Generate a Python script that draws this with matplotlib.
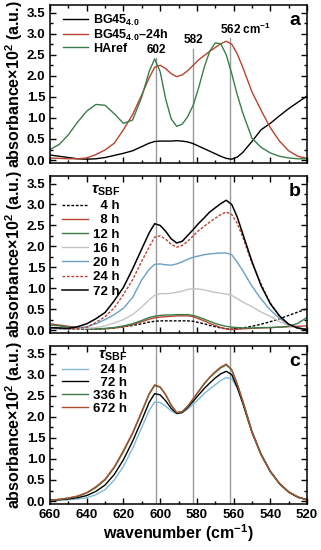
import matplotlib
matplotlib.use("Agg")
import matplotlib.pyplot as plt
from matplotlib.ticker import MultipleLocator, FormatStrFormatter

plt.rcParams["font.family"] = ["Liberation Sans", "DejaVu Sans"]
plt.rcParams["font.weight"] = "bold"
plt.rcParams["mathtext.fontset"] = "custom"
plt.rcParams["mathtext.rm"] = "Liberation Sans:bold"
plt.rcParams["mathtext.bf"] = "Liberation Sans:bold"
plt.rcParams["mathtext.it"] = "Liberation Sans:italic"

# shared wavenumber grid (cm^-1)
wn = [660, 655, 650, 645, 640, 635, 630, 625, 620, 615, 610, 606, 603, 600,
      597, 594, 591, 588, 585, 582, 579, 576, 573, 570, 567, 564, 561, 558,
      555, 550, 545, 540, 535, 530, 525, 520]

# panel a
bg45 = [0.12, 0.09, 0.06, 0.03, 0.02, 0.03, 0.06, 0.11, 0.16, 0.22, 0.32, 0.40,
        0.44, 0.45, 0.45, 0.45, 0.46, 0.45, 0.43, 0.39, 0.33, 0.27, 0.21, 0.15,
        0.09, 0.04, 0.02, 0.07, 0.18, 0.44, 0.72, 0.87, 1.05, 1.22, 1.37, 1.52]
bg45_24h = [0.05, 0.04, 0.03, 0.03, 0.05, 0.13, 0.24, 0.40, 0.72, 1.08, 1.55, 1.95,
            2.20, 2.25, 2.17, 2.05, 1.98, 2.02, 2.12, 2.25, 2.38, 2.48, 2.58, 2.67,
            2.76, 2.82, 2.75, 2.52, 2.20, 1.62, 1.18, 0.77, 0.45, 0.22, 0.09, 0.04]
haref = [0.25, 0.37, 0.60, 0.90, 1.16, 1.32, 1.30, 1.10, 0.87, 0.95, 1.50, 2.10,
         2.40, 2.10, 1.45, 0.98, 0.80, 0.85, 1.03, 1.30, 1.72, 2.20, 2.58, 2.78,
         2.76, 2.50, 2.05, 1.55, 1.12, 0.52, 0.30, 0.17, 0.09, 0.05, 0.03, 0.03]

# panel b
b_4h = [0.05, 0.04, 0.03, 0.02, 0.02, 0.02, 0.03, 0.05, 0.08, 0.11, 0.15, 0.19,
        0.21, 0.22, 0.22, 0.22, 0.22, 0.22, 0.22, 0.21, 0.18, 0.15, 0.11, 0.08,
        0.05, 0.03, 0.02, 0.03, 0.05, 0.09, 0.14, 0.20, 0.27, 0.35, 0.43, 0.51]
b_8h = [0.15, 0.12, 0.09, 0.06, 0.04, 0.03, 0.03, 0.05, 0.08, 0.13, 0.20, 0.26,
        0.29, 0.31, 0.32, 0.33, 0.34, 0.34, 0.34, 0.32, 0.27, 0.22, 0.16, 0.11,
        0.06, 0.03, 0.01, 0.02, 0.03, 0.04, 0.05, 0.06, 0.07, 0.08, 0.09, 0.10]
b_12h = [0.12, 0.10, 0.07, 0.05, 0.03, 0.03, 0.04, 0.06, 0.10, 0.15, 0.23, 0.30,
         0.33, 0.35, 0.36, 0.36, 0.37, 0.37, 0.37, 0.35, 0.31, 0.26, 0.21, 0.16,
         0.12, 0.09, 0.07, 0.06, 0.05, 0.05, 0.06, 0.06, 0.07, 0.09, 0.16, 0.30]
b_16h = [0.05, 0.04, 0.03, 0.03, 0.04, 0.06, 0.10, 0.17, 0.25, 0.37, 0.55, 0.72,
         0.83, 0.87, 0.87, 0.88, 0.90, 0.93, 0.97, 0.99, 0.98, 0.96, 0.93, 0.90,
         0.88, 0.86, 0.83, 0.75, 0.67, 0.56, 0.43, 0.33, 0.20, 0.11, 0.05, 0.02]
b_20h = [0.04, 0.03, 0.03, 0.05, 0.08, 0.15, 0.25, 0.37, 0.52, 0.78, 1.20, 1.45,
         1.57, 1.58, 1.56, 1.55, 1.58, 1.63, 1.69, 1.74, 1.77, 1.80, 1.82, 1.83,
         1.84, 1.84, 1.80, 1.62, 1.42, 1.05, 0.74, 0.48, 0.28, 0.13, 0.05, 0.02]
b_24h = [0.05, 0.04, 0.03, 0.04, 0.07, 0.18, 0.32, 0.53, 0.85, 1.20, 1.65, 1.98,
         2.22, 2.25, 2.17, 2.05, 1.98, 2.02, 2.12, 2.25, 2.38, 2.48, 2.58, 2.67,
         2.76, 2.82, 2.76, 2.55, 2.22, 1.60, 1.10, 0.65, 0.33, 0.13, 0.04, 0.02]
b_72h = [0.06, 0.05, 0.04, 0.08, 0.15, 0.27, 0.42, 0.70, 1.02, 1.46, 1.94, 2.32,
         2.54, 2.50, 2.36, 2.18, 2.08, 2.12, 2.26, 2.40, 2.55, 2.68, 2.82, 2.92,
         3.02, 3.10, 3.00, 2.70, 2.30, 1.64, 1.06, 0.63, 0.34, 0.14, 0.05, 0.01]

# panel c
c_24h = [0.02, 0.02, 0.03, 0.05, 0.08, 0.15, 0.27, 0.50, 0.82, 1.25, 1.75, 2.15,
         2.35, 2.34, 2.25, 2.14, 2.07, 2.10, 2.18, 2.30, 2.42, 2.55, 2.66, 2.76,
         2.86, 2.93, 2.90, 2.68, 2.35, 1.67, 1.13, 0.72, 0.42, 0.22, 0.09, 0.03]
c_72h = [0.02, 0.03, 0.05, 0.08, 0.13, 0.23, 0.38, 0.63, 0.98, 1.42, 1.92, 2.34,
         2.55, 2.52, 2.38, 2.20, 2.08, 2.10, 2.22, 2.37, 2.52, 2.67, 2.80, 2.92,
         3.02, 3.08, 3.00, 2.70, 2.32, 1.63, 1.10, 0.70, 0.41, 0.21, 0.09, 0.03]
c_336h = [0.02, 0.04, 0.07, 0.11, 0.19, 0.32, 0.50, 0.79, 1.17, 1.60, 2.11, 2.53,
          2.74, 2.70, 2.52, 2.28, 2.10, 2.12, 2.25, 2.42, 2.60, 2.78, 2.93, 3.05,
          3.16, 3.23, 3.11, 2.77, 2.37, 1.65, 1.10, 0.70, 0.42, 0.22, 0.10, 0.03]
c_672h = [0.02, 0.04, 0.07, 0.12, 0.20, 0.34, 0.52, 0.81, 1.20, 1.62, 2.13, 2.55,
          2.76, 2.71, 2.53, 2.28, 2.10, 2.12, 2.25, 2.43, 2.61, 2.79, 2.94, 3.07,
          3.18, 3.25, 3.12, 2.78, 2.38, 1.65, 1.10, 0.70, 0.42, 0.22, 0.10, 0.03]

marker_bands = [602, 582, 562]
band_tops_a = [2.42, 2.64, 2.90]

FS = "\u2007"  # figure space, pads short labels so the "h" columns line up
labels_b = [FS + "4 h", FS + "8 h", "12 h", "16 h", "20 h", "24 h", "72 h"]
labels_c = [FS + "24 h", FS + "72 h", "336 h", "672 h"]

BLACK = "black"
RED = "#b8432f"
GREEN = "#3b7d4a"
GRAY = "#c4c4c4"
BLUE = "#6a9fc8"
LIGHTBLUE = "#7fb8d8"
BROWN = "#a8502f"
VLINE = "#9a9a9a"
DOTS = (0, (2, 1.2))
TAU = "$\\mathit{\\tau}_{\\mathbf{SBF}}$"

fig = plt.figure(figsize=(3.21, 5.5), dpi=100)
left, width = 50 / 321, 257 / 321
boxes = [(5, 163), (176, 333), (346, 504)]
axes = [fig.add_axes([left, 1 - b / 550, width, (b - t) / 550]) for t, b in boxes]


def style_axis(ax, letter, show_x):
    ax.set_xlim(660, 520)
    ax.set_ylim(-0.07, 3.68)
    ax.xaxis.set_major_locator(MultipleLocator(20))
    ax.xaxis.set_minor_locator(MultipleLocator(10))
    ax.yaxis.set_major_locator(MultipleLocator(0.5))
    ax.yaxis.set_minor_locator(MultipleLocator(0.25))
    ax.yaxis.set_major_formatter(FormatStrFormatter("%.1f"))
    ax.tick_params(which="both", direction="in", top=True, right=True,
                   labelsize=9.5, width=1)
    ax.tick_params(which="major", length=4)
    ax.tick_params(which="minor", length=2)
    if not show_x:
        ax.tick_params(labelbottom=False)
    for s in ax.spines.values():
        s.set_linewidth(1.1)
    ax.set_ylabel("absorbance×10$^{\\mathbf{2}}$ (a.u.)", fontsize=11.5,
                  fontweight="bold", labelpad=1)
    ax.text(0.975, 0.955, letter, transform=ax.transAxes, ha="right", va="top",
            fontsize=14, fontweight="bold")


# panel a
ax = axes[0]
style_axis(ax, "a", False)
for x, top in zip(marker_bands, band_tops_a):
    ax.plot([x, x], [-0.07, top], color=VLINE, lw=1.0, zorder=1)
ax.plot(wn, bg45, color=BLACK, lw=1.0, label="BG45$_{\\mathbf{4.0}}$")
ax.plot(wn, bg45_24h, color=RED, lw=1.0, label="BG45$_{\\mathbf{4.0}}$–24h")
ax.plot(wn, haref, color=GREEN, lw=1.0, label="HAref")
ax.text(602, 2.62, "602", ha="center", va="center", fontsize=8.5, fontweight="bold")
ax.text(582, 2.84, "582", ha="center", va="center", fontsize=8.5, fontweight="bold")
ax.text(567.5, 3.1, "562 cm$^{\\mathbf{-1}}$", ha="left", va="center",
        fontsize=8.5, fontweight="bold")
ax.legend(loc="upper left", bbox_to_anchor=(0.02, 1.0), frameon=False,
          fontsize=9, handlelength=2.0, handletextpad=0.4, labelspacing=0.0,
          borderaxespad=0.2)

# panel b
ax = axes[1]
style_axis(ax, "b", False)
for x in marker_bands:
    ax.axvline(x, color=VLINE, lw=1.0, zorder=1)
series_b = [(b_4h, BLACK, DOTS), (b_8h, RED, "-"), (b_12h, GREEN, "-"),
            (b_16h, GRAY, "-"), (b_20h, BLUE, "-"), (b_24h, RED, DOTS),
            (b_72h, BLACK, "-")]
for (ys, col, ls), lab in zip(series_b, labels_b):
    ax.plot(wn, ys, color=col, lw=1.1 if lab == "72 h" else 1.0, ls=ls, label=lab)
ax.legend(loc="upper left", bbox_to_anchor=(0.02, 1.0), frameon=False,
          fontsize=9.5, handlelength=2.0, handletextpad=0.4,
          labelspacing=0.15, borderaxespad=0.1, alignment="right",
          title=TAU, title_fontproperties={"size": 11})

# panel c
ax = axes[2]
style_axis(ax, "c", True)
for x in marker_bands:
    ax.axvline(x, color=VLINE, lw=1.0, zorder=1)
series_c = [(c_24h, LIGHTBLUE), (c_72h, BLACK), (c_336h, GREEN), (c_672h, BROWN)]
for (ys, col), lab in zip(series_c, labels_c):
    ax.plot(wn, ys, color=col, lw=1.0, label=lab)
ax.set_xlabel("wavenumber (cm$^{\\mathbf{-1}}$)", fontsize=11.5, fontweight="bold",
              labelpad=1)
ax.legend(loc="upper left", bbox_to_anchor=(0.02, 1.03), frameon=False,
          fontsize=9.5, handlelength=2.0, handletextpad=0.4,
          labelspacing=0.05, borderaxespad=0.1, alignment="right",
          title=TAU, title_fontproperties={"size": 11})

fig.savefig("out.png", dpi=100)
